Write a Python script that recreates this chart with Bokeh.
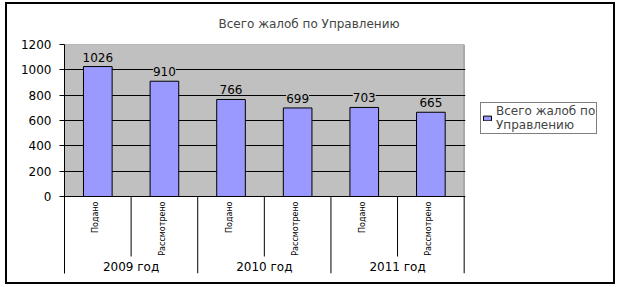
import math
from bokeh.plotting import figure
from bokeh.models import (Range1d, FixedTicker, Legend, LegendItem, InlineStyleSheet)
from bokeh.core.properties import value
from bokeh.embed import file_html
from bokeh.resources import INLINE

# ---- data ----
years = ["2009 год", "2010 год", "2011 год"]
kinds = ["Подано", "Рассмотрено"]
counts = [1026, 910, 766, 699, 703, 665]
series_name = "Всего жалоб по\nУправлению"
title_text = "Всего жалоб по Управлению"
y_ticks = [0, 200, 400, 600, 800, 1000, 1200]

FONT = "DejaVu Sans"
FS = "12px"
n = len(counts)
xs = [i + 0.5 for i in range(n)]
cat_labels = [kinds[i % 2] for i in range(n)]

Y_TOP = 1200
Y_BOT = -608  # space below the value axis for category labels
px_per_unit = 229 / (Y_TOP - Y_BOT)

p = figure(frame_width=401, frame_height=229, width=621, height=287,
           min_border_left=64, min_border_right=156, min_border_top=44, min_border_bottom=14,
           x_range=Range1d(0, n + 0.02), y_range=Range1d(Y_BOT, Y_TOP),
           output_backend="svg", toolbar_location=None,
           background_fill_color="white", border_fill_color="white")
p.outline_line_color = None

# plot area
p.quad(left=[0], right=[n], bottom=[0], top=[Y_TOP], fill_color="#C0C0C0",
       line_color="#808080", level="image")

# axes
p.xaxis.visible = False
p.xgrid.visible = False
yax = p.yaxis[0]
yax.ticker = FixedTicker(ticks=y_ticks)
yax.minor_tick_line_color = None
yax.major_tick_in = 0
yax.major_tick_out = 5
yax.major_label_standoff = 8
yax.major_label_text_font = FONT
yax.major_label_text_font_size = FS
yax.major_label_text_color = "black"
yax.axis_line_color = "black"
yax.major_tick_line_color = "black"
yax.bounds = (Y_BOT, Y_TOP)
p.ygrid.ticker = FixedTicker(ticks=y_ticks)
p.ygrid.grid_line_color = "black"
p.ygrid.grid_line_width = 1

# bars
bars = p.vbar(x=xs, top=counts, width=0.43, fill_color="#9999FF", line_color="black",
              line_width=1)

# value labels
p.text(x=xs, y=counts, text=[str(c) for c in counts], text_align="center",
       text_baseline="bottom", y_offset=-5, text_font=value(FONT),
       text_font_size=FS, text_color="black",
       background_fill_color="#C0C0C0")

# category labels (rotated)
p.text(x=[x - 0.03 for x in xs], y=[0] * n, text=cat_labels, angle=math.pi / 2,
       text_align="right", text_baseline="middle", y_offset=5,
       text_font=value(FONT), text_font_size="8px", text_color="black")

# group labels
p.text(x=[2 * i + 1 for i in range(len(years))], y=[0] * len(years), text=years,
       text_align="center", text_baseline="middle", y_offset=71,
       text_font=value(FONT), text_font_size=FS, text_color="black")

# separators
inner_y1 = -60 / px_per_unit
p.segment(x0=[1, 3, 5], y0=[0, 0, 0], x1=[1, 3, 5], y1=[inner_y1] * 3,
          line_color="black", line_width=1)
p.segment(x0=[2, 4, 6], y0=[0, 0, 0], x1=[2, 4, 6], y1=[Y_BOT] * 3,
          line_color="black", line_width=1)

# legend
legend = Legend(items=[LegendItem(label=series_name, renderers=[bars])],
                location=(15, 139), border_line_color="black", border_line_width=1,
                label_text_font=FONT, label_text_font_size=FS,
                glyph_width=10, glyph_height=6, label_standoff=4,
                padding=1, margin=0, spacing=0, background_fill_color="white",
                label_height=12)
p.add_layout(legend, "right")

# title
p.title.text = title_text
p.title.align = "left"
p.title.offset = 154
p.title.text_font = FONT
p.title.text_font_size = FS
p.title.text_font_style = "normal"
p.title.standoff = 28

# outer border of the chart area
p.stylesheets = [InlineStyleSheet(css="""
:host { position: relative; }
:host::after {
  content: ''; position: absolute; left: 5px; top: 2px; width: 610px; height: 282px;
  border: 2px solid black; box-sizing: border-box; pointer-events: none; z-index: 10;
}
""")]

open("out.html", "w").write(file_html(p, INLINE))
